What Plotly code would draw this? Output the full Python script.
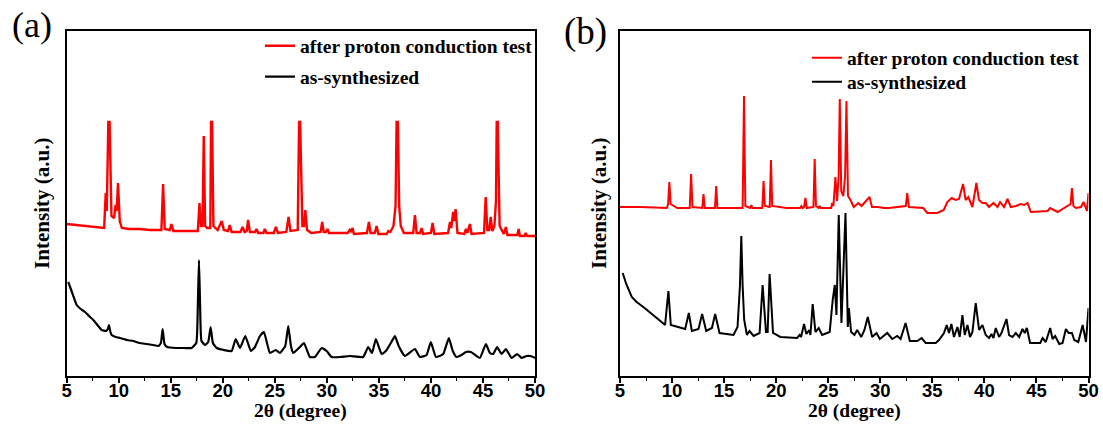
import plotly.graph_objects as go

# ---------------- Panel (a) ----------------
a_after_2theta = [5.0, 6.0, 7.0, 8.0, 8.6, 8.75, 8.85, 9.0, 9.12, 9.3, 9.55, 9.7, 9.8, 9.93, 10.1, 10.3,
                  11.0, 12.0, 13.0, 14.1, 14.26, 14.42, 14.9, 15.07, 15.25, 16.0, 17.0, 17.6, 17.76, 17.9,
                  18.05, 18.17, 18.3, 18.5, 18.8, 18.87, 18.97, 19.1, 19.5, 19.9, 20.1, 20.5, 20.67, 20.85,
                  21.7, 21.9, 22.1, 22.3, 22.43, 22.6, 23.1, 23.24, 23.4, 23.9, 24.04, 24.2, 24.9, 25.1,
                  25.3, 26.1, 26.32, 26.5, 27.2, 27.33, 27.43, 27.65, 27.8, 27.93, 28.1, 28.5, 29.4, 29.55,
                  29.7, 29.9, 30.06, 30.2, 32.0, 32.2, 32.32, 32.47, 32.6, 33.85, 34.04, 34.2, 34.6, 34.78,
                  34.95, 35.75, 35.9, 36.1, 36.4, 36.6, 36.7, 36.82, 36.95, 37.1, 37.4, 38.3, 38.46, 38.62,
                  38.95, 39.1, 39.25, 40.0, 40.16, 40.32, 41.65, 41.83, 41.95, 42.14, 42.25, 42.37, 42.55,
                  43.2, 43.37, 43.5, 43.75, 43.9, 45.1, 45.26, 45.42, 45.6, 45.74, 45.9, 46.1, 46.25, 46.32,
                  46.42, 46.6, 47.0, 47.2, 47.35, 48.3, 48.43, 48.55, 49.0, 49.1, 49.25, 50.0]
a_after_int = [152, 151, 150, 149, 148, 183, 165, 254, 254, 160, 158, 171, 165, 193, 155, 148,
               147, 147, 146, 146, 192, 147, 146, 152, 145, 145, 145, 145, 173, 150,
               150, 240, 150, 148, 148, 254, 254, 150, 146, 155, 146, 145, 151, 144,
               144, 149, 144, 145, 156, 144, 144, 147, 143, 143, 147, 143, 143, 149,
               143, 144, 159, 145, 146, 254, 254, 150, 150, 166, 146, 143, 144, 154,
               144, 144, 147, 143, 143, 146, 144, 148, 142, 143, 154, 143, 143, 150,
               142, 142, 145, 144, 150, 170, 254, 254, 170, 150, 143, 143, 161, 143,
               143, 148, 142, 143, 153, 142, 143, 154, 148, 164, 155, 167, 143,
               142, 147, 143, 152, 142, 143, 179, 146, 146, 159, 145, 150, 175, 254,
               254, 150, 142, 149, 141, 141, 147, 140, 140, 143, 140, 140]

a_as_2theta = [5.15, 5.5, 5.96, 6.35, 6.76, 7.15, 7.56, 7.95, 8.36, 8.78, 8.95, 9.06, 9.2, 9.32, 9.7,
               10.12, 10.8, 11.4, 12.0, 12.68, 13.3, 13.8, 14.05, 14.22, 14.4, 14.66, 15.5, 16.3, 17.0,
               17.45, 17.6, 17.71, 17.82, 17.95, 18.29, 18.6, 18.83, 19.05, 19.41, 20.1, 20.85, 21.24,
               21.65, 22.16, 22.7, 23.09, 23.57, 23.95, 24.53, 25.08, 25.49, 26.0, 26.29, 26.55, 26.77,
               27.41, 27.8, 28.37, 28.85, 29.5, 29.98, 30.46, 31.3, 32.21, 33.49, 33.97, 34.34, 34.71,
               35.26, 35.67, 36.2, 36.54, 36.9, 37.5, 38.46, 38.94, 39.58, 39.99, 40.48, 41.18, 41.72,
               42.1, 42.46, 42.94, 43.36, 43.84, 44.7, 45.28, 45.66, 45.98, 46.36, 46.79, 47.2, 47.75,
               48.29, 48.71, 49.19, 49.57, 50.0]
a_as_int = [94, 84, 71, 67, 64, 60, 56, 51, 46, 45, 47, 51, 44, 41, 39,
            38, 36, 35, 33, 32, 31, 30, 33, 47, 32, 29, 28, 28, 28,
            33, 70, 116, 70, 35, 31, 34, 49, 33, 28, 26, 25, 37,
            28, 40, 25, 29, 40, 44, 23, 26, 23, 30, 50, 30, 23,
            29, 33, 19, 19, 28, 25, 19, 19, 20, 19, 29, 23, 37,
            22, 25, 34, 40, 30, 20, 27, 19, 21, 34, 19, 22, 38,
            25, 19, 21, 24, 24, 18, 32, 23, 22, 29, 22, 27, 18,
            22, 18, 20, 20, 18]

# ---------------- Panel (b) ----------------
b_after_2theta = [5.0, 7.0, 9.5, 9.62, 9.74, 9.86, 10.5, 11.7, 11.83, 11.96, 12.9, 13.02, 13.14, 14.12,
                  14.24, 14.36, 15.5, 16.78, 16.91, 17.04, 17.5, 17.61, 17.72, 18.67, 18.79, 18.91, 19.38,
                  19.5, 19.62, 21.0, 22.3, 22.42, 22.55, 22.68, 22.81, 22.94, 23.58, 23.7, 23.82, 24.08,
                  24.18, 24.28, 25.28, 25.38, 25.5, 25.69, 25.85, 26.0, 26.11, 26.25, 26.45, 26.62, 26.75,
                  26.9, 27.14, 27.45, 27.88, 28.2, 28.97, 29.2, 29.76, 30.34, 30.82, 31.69, 32.45, 32.59,
                  32.75, 34.13, 34.52, 35.48, 36.1, 36.44, 36.86, 37.24, 37.56, 37.95, 38.2, 38.46, 38.85,
                  39.23, 39.48, 39.81, 40.13, 40.45, 40.87, 41.26, 41.51, 41.89, 42.22, 42.54, 43.02, 43.5,
                  43.82, 44.14, 44.46, 46.07, 46.32, 47.03, 47.83, 48.28, 48.41, 48.55, 48.79, 49.28, 49.53,
                  49.85, 50.0]
b_after_int = [169, 169, 168, 172, 194, 172, 168, 168, 202, 169, 168, 182, 168, 168,
               190, 168, 168, 168, 280, 170, 168, 171, 168, 168, 195, 170, 169,
               216, 170, 168, 168, 170, 168, 169, 178, 168, 169, 217, 170, 168,
               170, 168, 168, 173, 170, 199, 175, 200, 277, 185, 180, 200, 275,
               180, 176, 169, 173, 170, 179, 169, 169, 168, 168, 169, 170, 183,
               169, 168, 163, 163, 166, 174, 178, 176, 177, 192, 176, 179, 169,
               193, 176, 173, 173, 169, 173, 169, 174, 169, 177, 169, 170, 172,
               171, 173, 164, 165, 168, 164, 169, 172, 188, 170, 168, 169, 174,
               165, 183]

b_as_2theta = [5.26, 5.6, 6.13, 6.6, 7.24, 7.9, 8.53, 9.33, 9.65, 9.88, 10.77, 11.26, 11.61, 11.9, 12.54,
               12.89, 13.28, 13.83, 14.14, 14.56, 15.9, 16.29, 16.52, 16.65, 16.78, 16.93, 17.19, 17.44,
               17.83, 18.41, 18.7, 19.02, 19.18, 19.37, 19.7, 20.4, 22.01, 22.26, 22.39, 22.68, 22.9,
               23.19, 23.29, 23.51, 23.77, 24.09, 24.41, 25.14, 25.43, 25.63, 25.79, 26.01, 26.27,
               26.66, 26.88, 26.98, 27.2, 27.52, 27.78, 28.17, 28.48, 28.8, 29.22, 29.64, 29.96,
               30.67, 31.15, 31.63, 31.95, 32.43, 32.84, 33.56, 33.97, 34.36, 35.32, 35.64, 36.12,
               36.38, 36.6, 36.83, 37.08, 37.41, 37.63, 37.89, 38.11, 38.37, 38.62, 38.85, 39.17,
               39.49, 39.81, 40.13, 40.45, 40.68, 40.87, 41.09, 41.41, 41.64, 42.12, 42.37, 42.7,
               43.02, 43.34, 43.66, 43.88, 44.08, 44.39, 45.36, 45.59, 45.9, 46.32, 46.55, 46.8,
               47.19, 47.51, 47.83, 48.09, 48.41, 48.63, 49.02, 49.44, 49.76, 50.0]
b_as_int = [103, 92, 79, 74, 69, 63, 58, 51, 85, 51, 48, 47, 63, 45, 47,
            62, 45, 48, 62, 43, 41, 49, 90, 140, 90, 56, 41, 45,
            40, 43, 91, 44, 44, 102, 43, 39, 38, 41, 39, 52, 42,
            46, 41, 72, 44, 48, 41, 44, 76, 91, 61, 161, 53,
            163, 49, 68, 44, 41, 46, 39, 46, 59, 39, 43, 37,
            43, 37, 40, 37, 53, 35, 35, 38, 33, 33, 36, 43,
            51, 43, 52, 39, 49, 39, 61, 41, 51, 39, 44, 73,
            46, 51, 41, 38, 42, 38, 48, 39, 43, 57, 41, 39,
            43, 39, 47, 43, 48, 33, 33, 38, 34, 48, 37, 40,
            32, 33, 47, 43, 43, 36, 34, 51, 34, 68]

series_names = ["after proton conduction test", "as-synthesized"]
series_colors = ["#ff0000", "#000000"]
x_ticks = [5, 10, 15, 20, 25, 30, 35, 40, 45, 50]
panel_labels = ["(a)", "(b)"]
x_title = "2θ (degree)"
y_title = "Intensity (a.u.)"

W, H = 1103, 427
SERIF = "Liberation Serif, Times New Roman, serif"
NARROW = "Liberation Sans Narrow, Arial Narrow, Liberation Sans, Arial, sans-serif"

fig = go.Figure()
fig.add_trace(go.Scatter(x=a_after_2theta, y=a_after_int, mode="lines", name=series_names[0],
                         line=dict(color=series_colors[0], width=2.4), xaxis="x", yaxis="y",
                         legend="legend", showlegend=True))
fig.add_trace(go.Scatter(x=a_as_2theta, y=a_as_int, mode="lines", name=series_names[1],
                         line=dict(color=series_colors[1], width=2.2, shape="spline", smoothing=0.4),
                         xaxis="x", yaxis="y", legend="legend2", showlegend=True))
fig.add_trace(go.Scatter(x=b_after_2theta, y=b_after_int, mode="lines", name=series_names[0],
                         line=dict(color=series_colors[0], width=2.0), xaxis="x2", yaxis="y2",
                         legend="legend3", showlegend=True))
fig.add_trace(go.Scatter(x=b_as_2theta, y=b_as_int, mode="lines", name=series_names[1],
                         line=dict(color=series_colors[1], width=2.0), xaxis="x2", yaxis="y2",
                         legend="legend4", showlegend=True))

y_dom = [(H - 376) / H, (H - 30.5) / H]
xa_dom = [66.7 / W, 535 / W]
xb_dom = [620 / W, 1088.5 / W]

def xaxis(dom, anchor):
    return dict(domain=dom, anchor=anchor, range=[5, 50], tickvals=x_ticks, automargin=False,
                ticks="outside", ticklen=5, tickwidth=1.5, tickcolor="black",
                minor=dict(dtick=2.5, tick0=5, ticks="outside", ticklen=3, tickwidth=1.2, tickcolor="black"),
                showline=True, linecolor="black", linewidth=2, mirror=True,
                showgrid=False, zeroline=False, ticklabelstandoff=-8,
                tickfont=dict(family=NARROW, size=18.5, color="black", weight="bold"))

def yaxis(anchor, standoff):
    return dict(domain=y_dom, anchor=anchor, range=[0, 345.5], showticklabels=False, automargin=False,
                ticks="", showline=True, linecolor="black", linewidth=2, mirror=True,
                showgrid=False, zeroline=False,
                title=dict(text=y_title, standoff=standoff,
                           font=dict(family=SERIF, size=21, color="black", weight="bold")))

leg_font = dict(family=SERIF, size=19.5, color="black", weight="bold")

def leg(x_px, y_px):
    return dict(x=x_px / W, xanchor="left", y=(H - y_px) / H, yanchor="middle", visible=True,
                bgcolor="rgba(0,0,0,0)", borderwidth=0, font=leg_font)

title_font = dict(family=SERIF, size=19.5, color="black", weight="bold")
annots = [
    dict(text=panel_labels[0], x=32 / W, y=(H - 25) / H, xref="paper", yref="paper",
         xanchor="center", yanchor="middle", showarrow=False,
         font=dict(family=SERIF, size=36, color="black")),
    dict(text=panel_labels[1], x=585 / W, y=(H - 32) / H, xref="paper", yref="paper",
         xanchor="center", yanchor="middle", showarrow=False,
         font=dict(family=SERIF, size=37, color="black")),
    dict(text=x_title, x=sum(xa_dom) / 2, y=(H - 411) / H, xref="paper", yref="paper",
         xanchor="center", yanchor="middle", showarrow=False, font=title_font),
    dict(text=x_title, x=sum(xb_dom) / 2, y=(H - 411) / H, xref="paper", yref="paper",
         xanchor="center", yanchor="middle", showarrow=False, font=title_font),
]

fig.update_layout(
    width=W, height=H, showlegend=True,
    margin=dict(l=0, r=0, t=0, b=0, autoexpand=False),
    paper_bgcolor="white", plot_bgcolor="white",
    xaxis=xaxis(xa_dom, "y"),
    yaxis=yaxis("x", 9),
    xaxis2=xaxis(xb_dom, "y2"),
    yaxis2=yaxis("x2", 6),
    legend=leg(260, 46),
    legend2=leg(260, 77),
    legend3=leg(807, 58),
    legend4=leg(807, 82),
    annotations=annots,
)

fig.write_html("out.html")
